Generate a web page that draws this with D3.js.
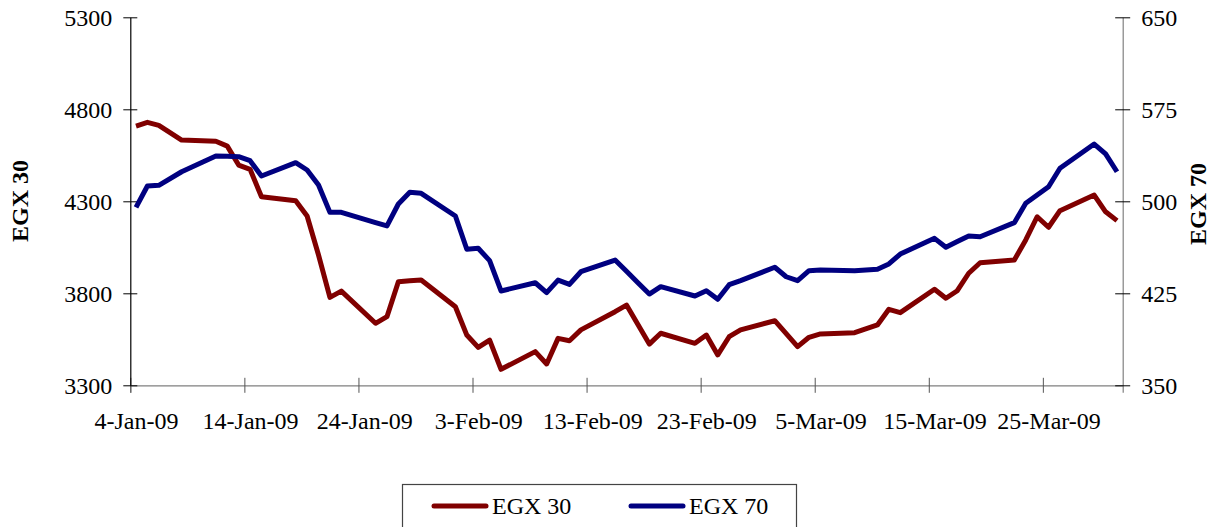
<!DOCTYPE html>
<html>
<head>
<meta charset="utf-8">
<script src="https://cdn.jsdelivr.net/npm/d3@7"></script>
<style>
  html, body { margin: 0; padding: 0; background: #fff; }
  svg { display: block; font-family: "Liberation Serif", "Times New Roman", serif; }
</style>
</head>
<body>
<svg id="chart" width="1213" height="527"></svg>
<script>
const dates = [
  "2009-01-04","2009-01-05","2009-01-06","2009-01-08","2009-01-11","2009-01-12","2009-01-13","2009-01-14","2009-01-15",
  "2009-01-18","2009-01-19","2009-01-20","2009-01-21","2009-01-22","2009-01-25","2009-01-26","2009-01-27","2009-01-28","2009-01-29",
  "2009-02-01","2009-02-02","2009-02-03","2009-02-04","2009-02-05","2009-02-08","2009-02-09","2009-02-10","2009-02-11","2009-02-12",
  "2009-02-15","2009-02-16","2009-02-17","2009-02-18","2009-02-19","2009-02-22","2009-02-23","2009-02-24","2009-02-25","2009-02-26",
  "2009-03-01","2009-03-02","2009-03-03","2009-03-04","2009-03-05","2009-03-08","2009-03-10","2009-03-11","2009-03-12",
  "2009-03-15","2009-03-16","2009-03-17","2009-03-18","2009-03-19","2009-03-22","2009-03-23","2009-03-24","2009-03-25","2009-03-26",
  "2009-03-29","2009-03-30","2009-03-31"
];
const egx30 = [
  4709,4729,4713,4633,4626,4600,4497,4474,4325,
  4303,4220,4008,3778,3812,3637,3673,3863,3868,3872,
  3727,3573,3506,3546,3387,3483,3416,3555,3542,3601,
  3700,3736,3630,3524,3583,3528,3573,3465,3564,3601,
  3651,3581,3510,3561,3579,3586,3628,3713,3695,
  3822,3773,3814,3909,3966,3981,4090,4216,4159,4249,
  4334,4243,4195
];
const egx70 = [
  495.1,512.5,513.0,524.1,536.9,536.7,536.4,533.1,520.6,
  531.5,525.5,513.3,491.0,491.0,482.6,479.9,497.8,507.3,506.5,
  488.0,460.9,461.7,451.6,426.9,433.6,425.5,435.8,432.3,442.6,
  452.1,443.0,433.6,424.4,430.4,422.8,427.1,420.1,432.0,435.3,
  446.2,438.5,435.3,443.4,444.0,443.4,444.6,448.9,457.0,
  469.8,462.5,467.2,471.7,471.1,482.6,498.4,505.1,511.9,526.9,
  546.7,538.6,524.1
];
const leftTicks = [3300, 3800, 4300, 4800, 5300];
const rightTicks = [350, 425, 500, 575, 650];
const xTickDates = ["2009-01-04","2009-01-14","2009-01-24","2009-02-03","2009-02-13","2009-02-23","2009-03-05","2009-03-15","2009-03-25"];
const seriesNames = ["EGX 30", "EGX 70"];
const seriesColors = ["#800000", "#000080"];

const parse = d3.utcParse("%Y-%m-%d");
const fmt = d3.utcFormat("%-d-%b-%y");
const data = dates.map((d, i) => ({ date: parse(d), a: egx30[i], b: egx70[i] }));

const svg = d3.select("#chart");
const L = 130.3, R = 1122.7, T = 17.3, B = 385.3;
const FS = 24;

const x = d3.scaleUtc().domain([parse("2009-01-04"), parse("2009-04-01")]).range([L, R]);
const yL = d3.scaleLinear().domain([3300, 5300]).range([B, T]);
const yR = d3.scaleLinear().domain([350, 650]).range([B, T]);
const xPos = d => x(d3.utcHour.offset(d, 12));
const halfDay = x(d3.utcHour.offset(parse("2009-01-04"), 12)) - x(parse("2009-01-04"));

// Bottom axis
const gx = svg.append("g").attr("transform", `translate(0,${B})`)
  .call(d3.axisBottom(x).tickValues(xTickDates.map(parse)).tickFormat(fmt).tickSize(7.5).tickPadding(0));
gx.select(".domain").attr("stroke", "#808080").attr("stroke-width", 1.2);
gx.selectAll(".tick line").attr("y1", -7.5).attr("stroke", "#555");
gx.selectAll(".tick text").attr("font-size", FS).attr("font-family", "Liberation Serif, serif")
  .attr("fill", "#000").attr("dy", null).attr("y", 43.5).attr("x", halfDay);

// Left axis
const gl = svg.append("g").attr("transform", `translate(${L},0)`)
  .call(d3.axisLeft(yL).tickValues(leftTicks).tickFormat(d3.format("d")).tickSize(7).tickPadding(11).tickSizeOuter(0));
gl.select(".domain").attr("stroke", "#000").attr("stroke-width", 1.2);
gl.selectAll(".tick line").attr("x1", 7).attr("stroke", "#000");
gl.selectAll(".tick text").attr("font-size", FS).attr("font-family", "Liberation Serif, serif")
  .attr("fill", "#000").attr("dy", "0.34em");

// Right axis
const gr = svg.append("g").attr("transform", `translate(${R},0)`)
  .call(d3.axisRight(yR).tickValues(rightTicks).tickFormat(d3.format("d")).tickSize(7.5).tickPadding(11).tickSizeOuter(0));
gr.select(".domain").attr("stroke", "#808080").attr("stroke-width", 1.2);
gr.selectAll(".tick line").attr("x1", -7.5).attr("stroke", "#000");
gr.selectAll(".tick text").attr("font-size", FS).attr("font-family", "Liberation Serif, serif")
  .attr("fill", "#000").attr("dy", "0.34em");

// Axis titles
svg.append("text").attr("transform", `translate(28,201) rotate(-90)`)
  .attr("text-anchor", "middle").attr("font-size", FS).attr("font-weight", "bold").text(seriesNames[0]);
svg.append("text").attr("transform", `translate(1206,204) rotate(-90)`)
  .attr("text-anchor", "middle").attr("font-size", FS).attr("font-weight", "bold").text(seriesNames[1]);

// Lines
const lineA = d3.line().x(d => xPos(d.date)).y(d => yL(d.a));
const lineB = d3.line().x(d => xPos(d.date)).y(d => yR(d.b));
svg.append("path").datum(data).attr("d", lineA).attr("fill", "none")
  .attr("stroke", seriesColors[0]).attr("stroke-width", 5).attr("stroke-linejoin", "round");
svg.append("path").datum(data).attr("d", lineB).attr("fill", "none")
  .attr("stroke", seriesColors[1]).attr("stroke-width", 5).attr("stroke-linejoin", "round");

// Legend
const lg = svg.append("g");
lg.append("rect").attr("x", 402.5).attr("y", 484.5).attr("width", 394).attr("height", 60)
  .attr("fill", "#fff").attr("stroke", "#444").attr("stroke-width", 1.2);
const legendX = [434, 631];
seriesNames.forEach((n, i) => {
  lg.append("line").attr("x1", legendX[i]).attr("x2", legendX[i] + 52).attr("y1", 506).attr("y2", 506)
    .attr("stroke", seriesColors[i]).attr("stroke-width", 5).attr("stroke-linecap", "round");
  lg.append("text").attr("x", legendX[i] + 58).attr("y", 514).attr("font-size", FS).text(n);
});
</script>
</body>
</html>
